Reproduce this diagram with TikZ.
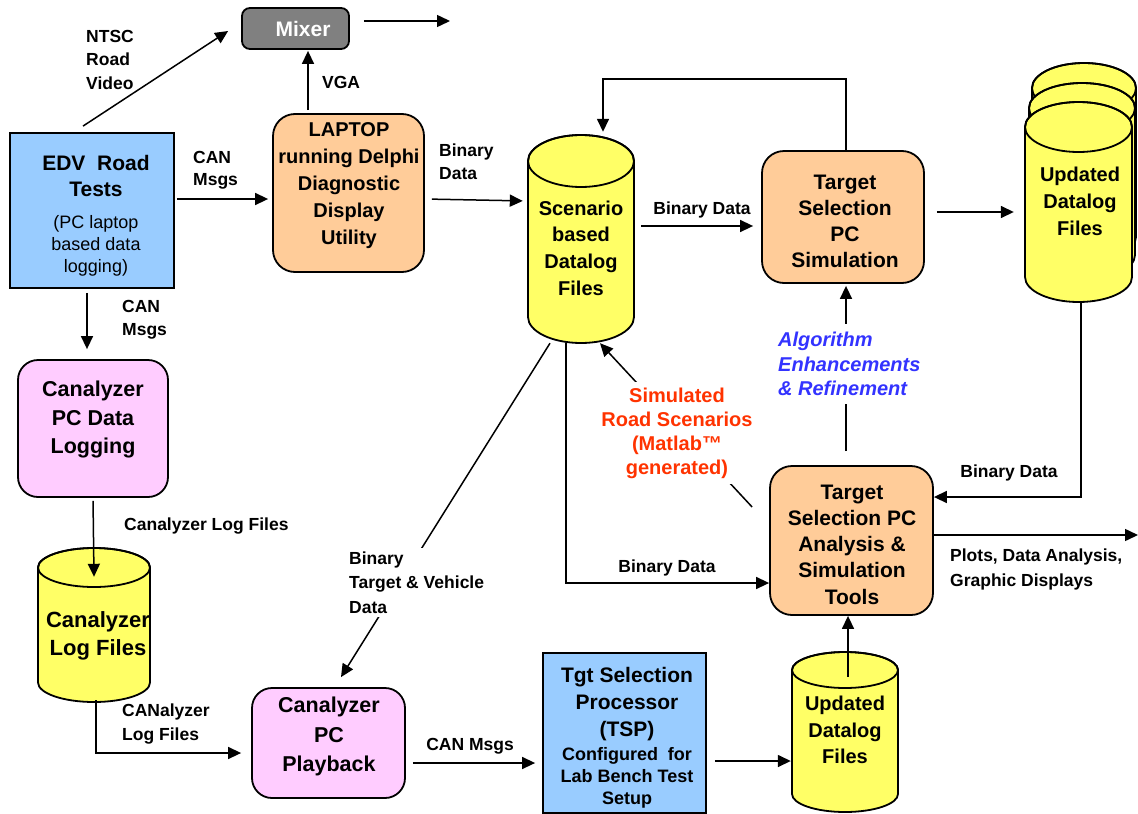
\documentclass[tikz,border=0pt]{standalone}
\usepackage{fontspec}
\setmainfont{Liberation Sans}
\usetikzlibrary{arrows.meta,calc}
\definecolor{peach}{HTML}{FFCC99}
\definecolor{skyb}{HTML}{99CCFF}
\definecolor{pinkb}{HTML}{FFCCFF}
\definecolor{yel}{HTML}{FFFF66}
\definecolor{mixg}{HTML}{808080}
\definecolor{algblue}{HTML}{3333FF}
\definecolor{simred}{HTML}{FF3300}
% cylinder: center x, top y, bottom y, half width, y radius
\newcommand\mycyl[5]{%
  \filldraw[fill=yel, draw=black, line width=1.8pt] (#1-#4,#3-#5)
    arc[start angle=180,end angle=360,x radius=#4pt,y radius=#5pt]
    -- (#1+#4,#2+#5)
    arc[start angle=0,end angle=180,x radius=#4pt,y radius=#5pt] -- cycle;
  \draw[line width=1.8pt] (#1,#2+#5) ellipse[x radius=#4pt,y radius=#5pt];}
\begin{document}
\begin{tikzpicture}[x=1pt,y=-1pt,
  arr/.style={line width=1.5pt,-{Triangle[length=13pt,width=12pt]}},
  ln/.style={line width=1.5pt},
  box/.style={draw,line width=1.8pt,inner sep=0pt},
  peachbox/.style={box,fill=peach,rounded corners=22pt},
  pinkbox/.style={box,fill=pinkb,rounded corners=20pt},
  bluebox/.style={box,fill=skyb},
  hold/.style={inner sep=0pt},
  bt/.style={font=\fontsize{21}{26.5}\selectfont\bfseries,align=center,inner sep=0pt},
  lbl/.style={font=\fontsize{17.5}{23}\selectfont\bfseries,align=left,inner sep=0pt},
]
\useasboundingbox (0,0) rectangle (1138,814);

% ---------- boxes ----------
\node[box,fill=mixg,rounded corners=8pt,minimum width=107pt,minimum height=41pt,
      text=white,font=\fontsize{21}{26}\selectfont\bfseries] (mixer) at (295.5,28.5) {\hspace*{15pt}Mixer};

\node[bluebox,minimum width=164pt,minimum height=155pt] (edv) at (92,210.5) {};
\node[bt] (edvt) at (96,176) {EDV\ \ Road\\Tests};
\node[font=\fontsize{18}{22}\selectfont,align=center,inner sep=0pt] (edvs) at (96,246) {(PC laptop\\based data\\logging)};

\node[peachbox,minimum width=151pt,minimum height=158pt] (laptop) at (348.5,193) {};
\node[bt,font=\fontsize{20}{27}\selectfont\bfseries] (laptopt) at (349,185.5) {LAPTOP\\running Delphi\\Diagnostic\\Display\\Utility};

\node[hold,minimum width=106pt,minimum height=208pt] (scen) at (581,239) {};
\mycyl{581}{135}{343}{53}{26}
\node[bt,font=\fontsize{20}{26.7}\selectfont\bfseries] (scent) at (581,248) {Scenario\\based\\Datalog\\Files};

\node[peachbox,minimum width=162pt,minimum height=132pt] (sim) at (843,217) {};
\node[bt,font=\fontsize{21}{26}\selectfont\bfseries] (simt) at (845,221) {Target\\Selection\\PC\\Simulation};

\mycyl{1084}{63}{262}{52}{25}
\mycyl{1082}{83}{280}{53}{25}
\mycyl{1078.5}{102}{302}{53.5}{25}
\node[hold,minimum width=107pt,minimum height=200pt] (upd) at (1078.5,202) {};
\node[bt,font=\fontsize{20}{27}\selectfont\bfseries] (updt) at (1080,201) {Updated\\Datalog\\Files};

\node[peachbox,minimum width=163pt,minimum height=149pt] (tsa) at (851.5,540.5) {};
\node[bt,font=\fontsize{21}{26.25}\selectfont\bfseries] (tsat) at (852,544.5) {Target\\Selection PC\\Analysis \&\\Simulation\\Tools};

\node[pinkbox,minimum width=150pt,minimum height=137pt] (pdl) at (93,428.5) {};
\node[bt,font=\fontsize{21.5}{28.5}\selectfont\bfseries] (pdlt) at (93,419.5) {Canalyzer\\PC Data\\Logging};

\mycyl{94}{548}{702}{56}{19.5}
\node[hold,minimum width=112pt,minimum height=154pt] (logc) at (94,625) {};
\node[bt,font=\fontsize{22}{28}\selectfont\bfseries] (logct) at (98,636) {Canalyzer\\Log Files};

\node[pinkbox,minimum width=153pt,minimum height=110pt] (play) at (328.5,743) {};
\node[bt,font=\fontsize{21.5}{29.5}\selectfont\bfseries] (playt) at (329,736.5) {Canalyzer\\PC\\Playback};

\node[bluebox,minimum width=163pt,minimum height=160pt] (tsp) at (624.5,733) {};
\node[bt,font=\fontsize{21}{27}\selectfont\bfseries] (tspt) at (627,704) {Tgt Selection\\Processor\\(TSP)};
\node[bt,font=\fontsize{18}{22}\selectfont\bfseries] (tsps) at (627,778) {Configured\ \ for\\Lab Bench Test\\Setup};

\mycyl{845}{652}{812}{53}{18}
\node[hold,minimum width=106pt,minimum height=160pt] (updb) at (845,732) {};
\node[bt,font=\fontsize{20}{26.5}\selectfont\bfseries] (updbt) at (845,730) {Updated\\Datalog\\Files};

% ---------- free ends ----------
\coordinate (mixout) at (450,21);
\coordinate (outc) at (1138,535);

% ---------- connectors ----------
\draw[arr] ($(edv.north)+(-9,-6)$) -- ($(mixer.west)+(-13,2.5)$);
\draw[arr] ($(mixer.east |- 0,21)+(14,0)$) -- (mixout);
\draw[arr,shorten <=3pt,shorten >=1pt] (laptop.north -| 308,0) -- (mixer.south -| 308,0);
\draw[arr,shorten <=2pt,shorten >=4pt] (edv.east |- 0,199) -- (laptop.west |- 0,199);
\draw[arr,shorten <=7pt,shorten >=5pt] (laptop.east |- 0,199) -- (scen.west |- 0,201);
\draw[arr,shorten <=7pt,shorten >=8pt] (scen.east |- 0,226) -- (sim.west |- 0,226);
\draw[arr,shorten >=3pt] (sim.north -| 846,0) -- ++(0,-71) -| (scen.north -| 603,0);
\draw[arr,shorten <=12pt,shorten >=11pt] (sim.east |- 0,212) -- (upd.west |- 0,212);
\draw[arr] (upd.south -| 1081,0) |- (tsa.east |- 0,497);
\draw[arr,shorten <=14pt,shorten >=2pt] (tsa.north -| 846,0) -- (sim.south -| 846,0);
\draw[arr] (tsa.east |- 0,535) -- (outc);
\draw[arr] (scen.south -| 566,0) |- (tsa.west |- 0,583);
\draw[arr] ($(tsa.west)+(-17,-33.5)$) -- ($(scen.south)+(19,0)$);
\draw[arr] ($(scen.south)+(-31,0)$) -- ($(play.north)+(12.5,-10)$);
\draw[arr,shorten <=4pt,shorten >=10pt] (edv.south -| 87,0) -- (pdl.north -| 87,0);
\draw[arr,shorten <=3pt] (pdl.south) -- ($(logc.north)+(0,29)$);
\draw[arr,shorten >=10pt] ($(logc.south)+(2,-2)$) |- (play.west |- 0,753);
\draw[arr,shorten <=7pt,shorten >=7pt] (play.east |- 0,763) -- (tsp.west |- 0,763);
\draw[arr,shorten <=8pt,shorten >=1pt] (tsp.east |- 0,761) -- (updb.west |- 0,761);
\draw[arr] ($(updb.north)+(3,25)$) -- (tsa.south -| 848,0);

% ---------- labels ----------
\node[lbl,anchor=west,font=\fontsize{17.5}{23.5}\selectfont\bfseries] (lntsc) at (86,59.5) {NTSC\\Road\\Video};
\node[lbl,anchor=west,font=\fontsize{17.5}{22}\selectfont\bfseries] (lcan1) at (193,170) {CAN\\Msgs};
\node[lbl,anchor=west] (lvga) at (322,82) {VGA};
\node[lbl,anchor=west] (lbin1) at (439,161.5) {Binary\\Data};
\node[lbl] (lbin2) at (702,210) {Binary Data};
\node[lbl] (lbin3) at (1009,473) {Binary Data};
\node[lbl] (lbin4) at (667,568) {Binary Data};
\node[lbl,anchor=west] (lcan2) at (122,319.5) {CAN\\Msgs};
\node[lbl,anchor=west] (lclf) at (124,526) {Canalyzer Log Files};
\node[lbl,anchor=west,font=\fontsize{17.5}{24}\selectfont\bfseries] (lclf2) at (122,724) {CANalyzer\\Log Files};
\node[lbl,anchor=west,font=\fontsize{17.5}{24.5}\selectfont\bfseries,fill=white,inner sep=4pt] (lbtv) at (345,582.5) {Binary\\Target \& Vehicle\\Data};
\node[lbl] (lcan3) at (470,746) {CAN Msgs};
\node[lbl,anchor=west,font=\fontsize{17.5}{25}\selectfont\bfseries] (lplots) at (950,569.5) {Plots, Data Analysis,\\Graphic Displays};
\node[anchor=west,align=left,font=\fontsize{20}{24.5}\selectfont\bfseries\itshape,text=algblue,fill=white,inner xsep=0pt,inner ysep=8pt] (lalg) at (778,364) {Algorithm\\Enhancements\\\& Refinement};
\node[align=center,font=\fontsize{20}{24}\selectfont\bfseries,text=simred,fill=white,inner sep=6pt] (lsim) at (677,433) {Simulated\\Road Scenarios\\(Matlab™\\generated)};
\end{tikzpicture}
\end{document}
